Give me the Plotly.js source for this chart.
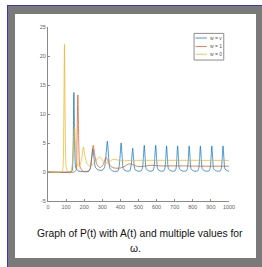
<!DOCTYPE html>
<html>
<head>
<meta charset="utf-8">
<script src="https://cdn.plot.ly/plotly-3.0.1.min.js"></script>
<style>
  html, body { margin: 0; padding: 0; background: #ffffff; width: 262px; height: 267px; overflow: hidden; }
  #frame { position: absolute; left: 7px; top: 5px; width: 255px; height: 262px; background: #7a7a7a;
           border-left: 1px solid #3434d4; border-top: 1px solid #3434d4; box-sizing: border-box; }
  #plot { position: absolute; left: 15px; top: 14px; width: 241px; height: 244px; background: #ffffff; }
</style>
</head>
<body>
<div id="frame"></div>
<div id="plot"></div>
<script>
// ---- data ----
const seriesNames = ["w = v", "w = 1", "w = 0"];
const seriesColors = ["#0072BD", "#D95319", "#EDB120"];

const tBlue = [0,120,132,138,143,148,153,165,200,225,235,242,248,254,262,275,300,312,320,328,335,342,360,385,393,399,404,410,417,435,452,460,464,468,474,481,500,515,522,527,532,537,543,560,578,585,590,595,600,606,622,640,646,651,655,660,666,685,702,708,712,716,721,727,745,765,771,776,780,785,791,808,827,833,838,842,847,853,870,890,896,901,905,910,916,933,952,958,963,967,972,978,992,1000];
const pBlue = [0,0,0.1,3,13.7,4,0.8,0.2,0.05,0.1,0.8,2.5,4.0,2.5,0.8,0.4,0.3,0.8,2.8,5.3,2.5,0.6,0.15,0.15,1.0,3.0,5.0,2.5,0.5,0.15,0.2,1.3,2.8,4.1,1.8,0.4,0.15,0.2,0.7,2.5,4.6,2.3,0.5,0.15,0.2,0.7,2.5,4.6,2.3,0.5,0.15,0.2,0.7,2.5,4.5,2.3,0.5,0.15,0.2,0.7,2.5,4.5,2.3,0.5,0.15,0.2,0.7,2.5,4.5,2.3,0.5,0.15,0.2,0.7,2.5,4.5,2.3,0.5,0.15,0.2,0.7,2.5,4.5,2.3,0.5,0.15,0.2,0.7,2.5,4.5,2.3,0.5,0.2,0.15];

const tOrange = [0,145,155,160,165,170,176,190,215,232,240,250,258,268,280,292,305,315,322,332,345,365,385,400,420,440,452,465,490,520,550,580,620,680,750,850,1000];
const pOrange = [0,0,0.3,5,13.3,5,1.0,0.2,0.1,0.5,2.2,4.6,3.0,1.5,0.9,0.8,1.3,2.2,2.5,1.8,1.0,0.7,0.65,0.7,0.9,1.3,1.4,1.3,1.0,0.95,1.1,1.15,1.05,1.05,1.05,1.0,1.0];

const tYellow = [0,75,82,87,91,95,100,108,125,135,142,147,152,160,172,185,195,203,215,230,245,260,275,287,298,315,330,345,360,380,400,430,470,1000];
const pYellow = [0,0,0.5,8,22,8,1.0,0.1,0.1,1.5,5,7.8,4,1.5,0.9,2.0,4.3,3.0,1.5,1.0,1.2,1.7,2.4,2.6,2.1,1.6,1.6,1.9,2.2,2.1,1.95,1.95,2.0,2.0];

const xTicks = [0,100,200,300,400,500,600,700,800,900,1000];
const yTicks = [-5,0,5,10,15,20,25];
const captionLines = ["Graph of P(t) with A(t) and multiple values for", "ω."];

// ---- chart ----
const xs = [tBlue, tOrange, tYellow];
const ys = [pBlue, pOrange, pYellow];
const traces = xs.map((x, i) => ({
  x: x, y: ys[i], type: "scatter", mode: "lines", name: seriesNames[i],
  line: { color: seriesColors[i], width: 1, shape: "spline", smoothing: 0.6 },
  opacity: 0.72, showlegend: false, hoverinfo: "skip"
}));

// legend drawn in data coordinates (top-right box)
const legX0 = 807, legX1 = 971, legY0 = 19.3, legY1 = 23.9;
const legRows = [23.1, 21.65, 20.3];
const shapes = [{ type: "rect", xref: "x", yref: "y", x0: legX0, x1: legX1, y0: legY0, y1: legY1,
  line: { color: "#8c8c8c", width: 1 }, fillcolor: "#ffffff" }];
const annotations = [];
seriesNames.forEach((n, i) => {
  shapes.push({ type: "line", xref: "x", yref: "y", x0: 815, x1: 878, y0: legRows[i], y1: legRows[i],
    line: { color: seriesColors[i], width: 1 }, opacity: 0.72 });
  annotations.push({ xref: "x", yref: "y", x: 884, y: legRows[i], text: n, showarrow: false,
    xanchor: "left", yanchor: "middle", font: { family: "Liberation Sans, Arial", size: 5, color: "#555" } });
});
annotations.push({ xref: "paper", yref: "paper", x: 0.506, y: -0.186, text: captionLines[0], showarrow: false,
  xanchor: "center", yanchor: "middle", font: { family: "Liberation Sans, Arial", size: 10.3, color: "#111" } });
annotations.push({ xref: "paper", yref: "paper", x: 0.485, y: -0.272, text: captionLines[1], showarrow: false,
  xanchor: "center", yanchor: "middle", font: { family: "Liberation Sans, Arial", size: 10.3, color: "#111" } });

const layout = {
  width: 241, height: 244,
  margin: { l: 33, r: 27, t: 13, b: 57, pad: 0 },
  paper_bgcolor: "#ffffff", plot_bgcolor: "#ffffff",
  showlegend: false,
  xaxis: { range: [0, 1000], tickvals: xTicks, ticktext: xTicks.map(String),
    showgrid: false, zeroline: false, showline: true, linecolor: "#8a8a8a", linewidth: 1,
    ticks: "inside", ticklen: 2, tickcolor: "#8a8a8a",
    tickfont: { family: "Liberation Sans, Arial", size: 5.5, color: "#666" } },
  yaxis: { range: [-5, 25], tickvals: yTicks, ticktext: yTicks.map(String),
    showgrid: false, zeroline: false, showline: true, linecolor: "#8a8a8a", linewidth: 1,
    ticks: "inside", ticklen: 2, tickcolor: "#8a8a8a",
    tickfont: { family: "Liberation Sans, Arial", size: 5.5, color: "#666" } },
  shapes: shapes, annotations: annotations
};

Plotly.newPlot("plot", traces, layout, { staticPlot: true, displayModeBar: false });
</script>
</body>
</html>
